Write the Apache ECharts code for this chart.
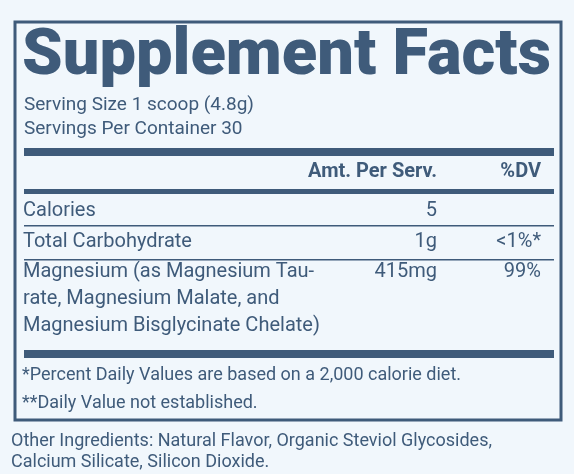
<!DOCTYPE html><html><head><meta charset="utf-8"><script src="https://cdn.jsdelivr.net/npm/echarts@6/dist/echarts.min.js"></script>
<style>html,body{margin:0;background:#f1f7fc}#c{width:574px;height:474px}</style></head><body><div id="c"></div><script>
const title = "Supplement Facts";
const servingLines = ["Serving Size 1 scoop (4.8g)", "Servings Per Container 30"];
const headers = ["Amt. Per Serv.", "%DV"];
const rowNames = [["Calories"], ["Total Carbohydrate"], ["Magnesium (as Magnesium Tau-", "rate, Magnesium Malate, and", "Magnesium Bisglycinate Chelate)"]];
const rowAmounts = ["5", "1g", "415mg"];
const rowDV = ["", "<1%*", "99%"];
const footnotes = ["*Percent Daily Values are based on a 2,000 calorie diet.", "**Daily Value not established."];
const otherIngredients = ["Other Ingredients: Natural Flavor, Organic Steviol Glycosides,", "Calcium Silicate, Silicon Dioxide."];

const C = "#3f5b7a", F = "Roboto, sans-serif";
const g = [];
const txt = (s, x, y, o) => g.push({type:"text", x, y, style:Object.assign({text:s, fill:C, font:"20px " + F, textVerticalAlign:"middle"}, o||{})});
const rect = (x, y, w, h) => g.push({type:"rect", shape:{x, y, width:w, height:h}, style:{fill:C}});
g.push({type:"rect", shape:{x:15, y:22, width:546, height:398}, style:{fill:"none", stroke:C, lineWidth:3}});
txt(title, 22, 58, {font:"900 65px " + F});
servingLines.forEach((s, i) => txt(s, 24, 105 + i * 24, {font:"19px " + F}));
rect(24, 148, 530, 8);
txt(headers[0], 437, 172, {textAlign:"right", font:"bold 20px " + F});
txt(headers[1], 541, 172, {textAlign:"right", font:"bold 20px " + F});
rect(24, 189, 530, 5);
const rowY = [211, 242, 272], lineH = 27;
rowNames.forEach((lines, i) => {
  lines.forEach((s, j) => txt(s, 23, rowY[i] + j * lineH));
  txt(rowAmounts[i], 437, rowY[i], {textAlign:"right"});
  if (rowDV[i]) txt(rowDV[i], 541, rowY[i], {textAlign:"right"});
});
rect(24, 225, 530, 1.5); rect(24, 259, 530, 1.5);
rect(24, 350, 530, 8);
footnotes.forEach((s, i) => txt(s, 22, 375 + i * 28, {font:"18px " + F}));
otherIngredients.forEach((s, i) => txt(s, 11, 441 + i * 21, {font:"18px " + F}));
echarts.init(document.getElementById("c")).setOption({backgroundColor:"#f1f7fc", graphic:g});
</script></body></html>
